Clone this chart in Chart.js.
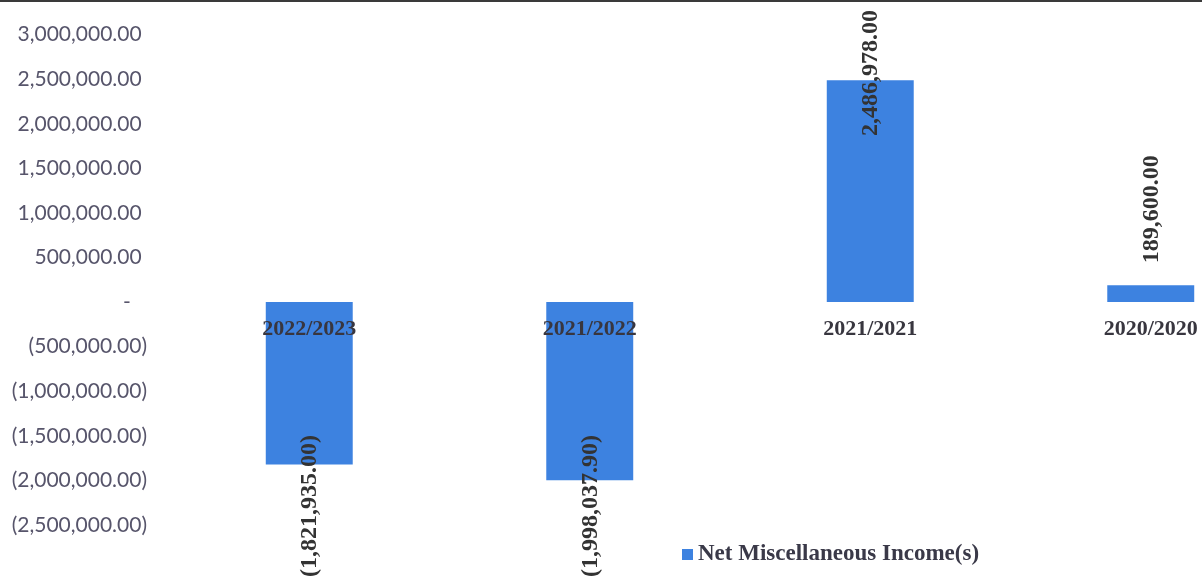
<!DOCTYPE html>
<html>
<head>
<meta charset="utf-8">
<script src="https://cdn.jsdelivr.net/npm/chart.js@4.4.1/dist/chart.umd.min.js"></script>
<style>
  html, body { margin: 0; padding: 0; background: #fff; overflow: hidden; }
  #topline { position: absolute; left: 0; top: 0; width: 1202px; height: 2px; background: #3a3a3a; }
  #wrap { position: absolute; left: 0; top: 0; width: 1300px; height: 577px; }
</style>
</head>
<body>
<div id="wrap"><canvas id="incomeChart"></canvas></div>
<div id="topline"></div>
<script>
// datos del gráfico
const categories = ['2022/2023', '2021/2022', '2021/2021', '2020/2020'];
const netIncome = [-1821935.00, -1998037.90, 2486978.00, 189600.00];
const seriesName = 'Net Miscellaneous Income(s)';
const yTicks = { min: -2500000, max: 3000000, step: 500000 };

const barColor = '#3d82e0';
const serif = '"Liberation Serif", "Times New Roman", serif';

// formato contable
const money = v => Math.abs(v).toLocaleString('en-US', { minimumFractionDigits: 2, maximumFractionDigits: 2 });
const tickText = v => {
  if (v === 0) return '-   ';
  return v < 0 ? '(' + money(v) + ')' : money(v) + ' ';
};

// etiquetas de valor giradas, fuera del extremo, dentro del lienzo
const barLabels = {
  id: 'barLabels',
  afterDatasetsDraw(chart) {
    const ctx = chart.ctx;
    const meta = chart.getDatasetMeta(0);
    const data = chart.data.datasets[0].data;
    ctx.save();
    ctx.font = 'bold 24px ' + serif;
    ctx.fillStyle = '#333333';
    ctx.textAlign = 'center';
    ctx.textBaseline = 'middle';
    meta.data.forEach((bar, i) => {
      const v = data[i];
      const txt = v < 0 ? '(' + money(v) + ')' : money(v);
      const w = ctx.measureText(txt).width;
      const gap = 22;
      let top, bottom;
      if (v >= 0) {
        bottom = bar.y - gap;
        top = bottom - w;
        if (top < 10) { top = 10; bottom = top + w; }
      } else {
        top = bar.y + gap;
        bottom = top + w;
        if (bottom > chart.height) { bottom = chart.height; top = bottom - w; }
      }
      ctx.save();
      ctx.translate(bar.x + 1, (top + bottom) / 2);
      ctx.rotate(-Math.PI / 2);
      ctx.fillText(txt, 0, 0);
      ctx.restore();
    });
    ctx.restore();
  },
  afterDraw(chart) {
    const ctx = chart.ctx;
    ctx.save();
    ctx.fillStyle = barColor;
    ctx.fillRect(682, 549, 11, 11);
    ctx.font = 'bold 23px ' + serif;
    ctx.fillStyle = '#3a3948';
    ctx.textAlign = 'left';
    ctx.textBaseline = 'middle';
    ctx.fillText(chart.data.datasets[0].label, 698, 554);
    ctx.restore();
  }
};

const ctx = document.getElementById('incomeChart').getContext('2d');
new Chart(ctx, {
  type: 'bar',
  data: {
    labels: categories,
    datasets: [{
      label: seriesName,
      data: netIncome,
      backgroundColor: barColor,
      borderWidth: 0,
      barPercentage: 0.31,
      categoryPercentage: 1
    }]
  },
  options: {
    responsive: true,
    maintainAspectRatio: false,
    animation: false,
    layout: { padding: { top: 33, bottom: 52, right: 9, left: 0 } },
    plugins: {
      legend: { display: false },
      tooltip: { enabled: false }
    },
    scales: {
      x: {
        position: { y: 0 },
        grid: { display: false, drawTicks: false },
        border: { display: false },
        ticks: {
          z: 1,
          padding: 14,
          color: '#38363f',
          font: { family: serif, size: 22, weight: 'bold' }
        }
      },
      y: {
        min: yTicks.min,
        max: yTicks.max,
        grid: { display: false, drawTicks: false },
        border: { display: false },
        afterFit: s => { s.width = 169; },
        ticks: {
          stepSize: yTicks.step,
          padding: 22,
          color: '#57556b',
          font: { family: 'Lato', size: 21 },
          callback: v => tickText(v)
        }
      }
    }
  },
  plugins: [barLabels]
});
</script>
</body>
</html>
